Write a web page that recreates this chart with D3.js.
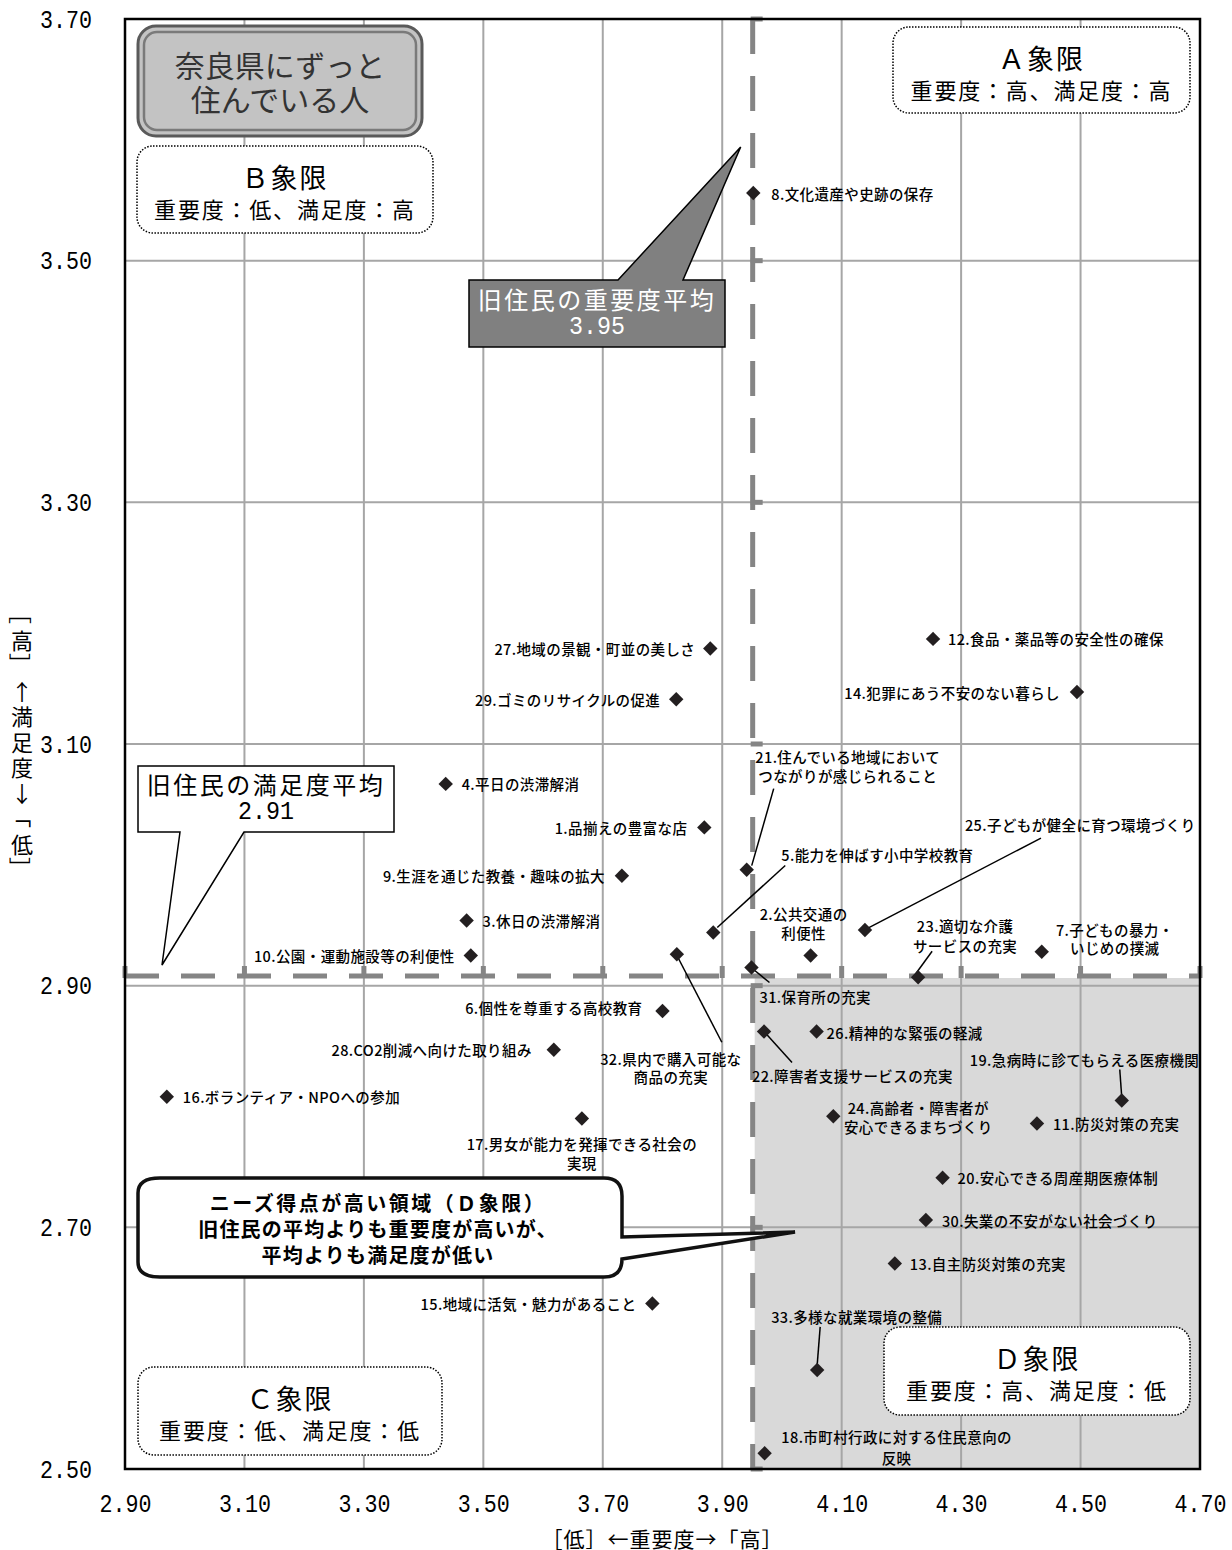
<!DOCTYPE html>
<html>
<head>
<meta charset="utf-8">
<script src="https://cdn.jsdelivr.net/npm/d3@7"></script>
<style>
  body { margin: 0; background: #fff; }
  svg text { font-family: "Noto Sans CJK JP", sans-serif; }
</style>
</head>
<body>
<div id="chart"></div>
<script>
// 項目番号・名称
var itemNo = d3.range(1, 34)
var itemNames = [
  "品揃えの豊富な店", "公共交通の利便性", "休日の渋滞解消", "平日の渋滞解消",
  "能力を伸ばす小中学校教育", "個性を尊重する高校教育", "子どもの暴力・いじめの撲滅",
  "文化遺産や史跡の保存", "生涯を通じた教養・趣味の拡大", "公園・運動施設等の利便性",
  "防災対策の充実", "食品・薬品等の安全性の確保", "自主防災対策の充実",
  "犯罪にあう不安のない暮らし", "地域に活気・魅力があること", "ボランティア・NPOへの参加",
  "男女が能力を発揮できる社会の実現", "市町村行政に対する住民意向の反映",
  "急病時に診てもらえる医療機関", "安心できる周産期医療体制",
  "住んでいる地域においてつながりが感じられること", "障害者支援サービスの充実",
  "適切な介護サービスの充実", "高齢者・障害者が安心できるまちづくり",
  "子どもが健全に育つ環境づくり", "精神的な緊張の軽減", "地域の景観・町並の美しさ",
  "CO2削減へ向けた取り組み", "ゴミのリサイクルの促進", "失業の不安がない社会づくり",
  "保育所の充実", "県内で購入可能な商品の充実", "多様な就業環境の整備"
]
// 重要度 (x)
var importance = [
  3.870, 4.048, 3.472, 3.437, 3.885, 3.800, 4.435, 3.952, 3.732, 3.479,
  4.427, 4.253, 4.189, 4.494, 3.783, 2.970, 3.665, 3.971, 4.569, 4.269,
  3.941, 3.970, 4.228, 4.086, 4.139, 4.058, 3.880, 3.618, 3.823, 4.241,
  3.949, 3.824, 4.059
]
// 満足度 (y)
var satisfaction = [
  3.031, 2.925, 2.954, 3.067, 2.944, 2.879, 2.928, 3.556, 2.991, 2.925,
  2.786, 3.187, 2.670, 3.143, 2.637, 2.808, 2.790, 2.513, 2.805, 2.741,
  2.996, 2.862, 2.907, 2.792, 2.946, 2.862, 3.179, 2.847, 3.137, 2.706,
  2.915, 2.926, 2.582
]
var xTicks = [2.9, 3.1, 3.3, 3.5, 3.7, 3.9, 4.1, 4.3, 4.5, 4.7]
var yTicks = [2.5, 2.7, 2.9, 3.1, 3.3, 3.5, 3.7]
var meanImportance = 3.951
var meanSatisfaction = 2.908
var quadrantNames = ["Ａ象限", "Ｂ象限", "Ｃ象限", "Ｄ象限"]
var quadrantNotes = ["重要度：高、満足度：高", "重要度：低、満足度：高", "重要度：低、満足度：低", "重要度：高、満足度：低"]
var xTitle = "［低］←重要度→「高］"
var yTitle = "［高］↑満足度↓「低］"

// ラベル配置 (点からのずれ, px)
var labelLayout = {
  1: {a: "end", dx: -17, dy: 0},
  2: {a: "middle", dx: -7, dy: -42, k: 7, gap: 19},
  3: {a: "start", dx: 16, dy: 0},
  4: {a: "start", dx: 16, dy: 0},
  5: {a: "start", dx: 68, dy: -78, leader: [72, -67, 4, -5]},
  6: {a: "end", dx: -20, dy: -4},
  7: {a: "middle", dx: 73, dy: -22, k: 9, gap: 18},
  8: {a: "start", dx: 18, dy: 0},
  9: {a: "end", dx: -17, dy: 0},
  10: {a: "end", dx: -16, dy: 0},
  11: {a: "start", dx: 16, dy: 0},
  12: {a: "start", dx: 15, dy: 0},
  13: {a: "start", dx: 15, dy: 0},
  14: {a: "end", dx: -17, dy: 0},
  15: {a: "end", dx: -16, dy: 0},
  16: {a: "start", dx: 16, dy: 0},
  17: {a: "middle", dx: 0, dy: 25, k: 17, gap: 19},
  18: {a: "middle", dx: 132, dy: -17, k: 17, gap: 21},
  19: {a: "start", dx: -152, dy: -41, leader: [-2, -31, 0, -3]},
  20: {a: "start", dx: 15, dy: 0},
  21: {a: "middle", dx: 101, dy: -113, k: 14, gap: 18.5, leader: [27, -81, 5, -4]},
  22: {a: "start", dx: -12, dy: 44, leader: [0, 0, 28, 31]},
  23: {a: "middle", dx: 47, dy: -52, k: 8, gap: 20, leader: [14, -26, -2, -4]},
  24: {a: "middle", dx: 85, dy: -9, k: 11, gap: 19.5},
  25: {a: "start", dx: 100, dy: -106, leader: [176, -92, 3, -2]},
  26: {a: "start", dx: 10, dy: 1},
  27: {a: "end", dx: -15, dy: 0},
  28: {a: "end", dx: -22, dy: 0},
  29: {a: "end", dx: -16, dy: 0},
  30: {a: "start", dx: 16, dy: 0},
  31: {a: "start", dx: 8, dy: 29, leader: [2, 2, 18, 15]},
  32: {a: "middle", dx: -6, dy: 104, k: 11, gap: 18.7, leader: [1, 3, 45, 88]},
  33: {a: "start", dx: -46, dy: -53, leader: [3, -43, 0, -5]}
}

var width = 1232, height = 1550
var plotLeft = 125, plotRight = 1200, plotTop = 19, plotBottom = 1469
var monoFont = "'Liberation Mono', 'DejaVu Sans Mono', monospace"

var svg = d3.select("#chart").append("svg")
    .attr("width", width)
    .attr("height", height)

var x = d3.scaleLinear().domain([2.9, 4.7]).range([plotLeft, plotRight])
var y = d3.scaleLinear().domain([2.5, 3.7]).range([plotBottom, plotTop])

var points = itemNo.map(function(n, i) {
  return {no: n, name: itemNames[i], x: importance[i], y: satisfaction[i]}
})

// D象限の網掛け
svg.append("rect")
    .attr("x", x(meanImportance) + 2)
    .attr("y", y(meanSatisfaction) + 2)
    .attr("width", x(4.7) - x(meanImportance) - 2)
    .attr("height", y(2.5) - y(meanSatisfaction) - 2)
    .attr("fill", "#d9d9d9")

// 目盛線
svg.append("g").selectAll("line")
    .data(xTicks.slice(1, -1))
    .enter().append("line")
    .attr("x1", function(d) { return x(d) }).attr("x2", function(d) { return x(d) })
    .attr("y1", plotTop).attr("y2", plotBottom)
    .attr("stroke", "#a6a6a6").attr("stroke-width", 2)
svg.append("g").selectAll("line")
    .data(yTicks.slice(1, -1))
    .enter().append("line")
    .attr("y1", function(d) { return y(d) }).attr("y2", function(d) { return y(d) })
    .attr("x1", plotLeft).attr("x2", plotRight)
    .attr("stroke", "#a6a6a6").attr("stroke-width", 2)

// 平均線
var meanColor = "#858585"
svg.append("line")
    .attr("x1", x(meanImportance)).attr("x2", x(meanImportance))
    .attr("y1", plotTop).attr("y2", plotBottom)
    .attr("stroke", meanColor).attr("stroke-width", 5)
    .attr("stroke-dasharray", "35,22")
svg.append("line")
    .attr("x1", plotLeft).attr("x2", plotRight)
    .attr("y1", y(meanSatisfaction)).attr("y2", y(meanSatisfaction))
    .attr("stroke", meanColor).attr("stroke-width", 5)
    .attr("stroke-dasharray", "34,22")
svg.append("g").selectAll("line")
    .data(xTicks)
    .enter().append("line")
    .attr("x1", function(d) { return x(d) }).attr("x2", function(d) { return x(d) })
    .attr("y1", y(meanSatisfaction) - 10).attr("y2", y(meanSatisfaction) + 2)
    .attr("stroke", meanColor).attr("stroke-width", 5)
svg.append("g").selectAll("line")
    .data(yTicks)
    .enter().append("line")
    .attr("y1", function(d) { return y(d) }).attr("y2", function(d) { return y(d) })
    .attr("x1", x(meanImportance) - 2).attr("x2", x(meanImportance) + 10)
    .attr("stroke", meanColor).attr("stroke-width", 5)

// 枠
svg.append("rect")
    .attr("x", plotLeft).attr("y", plotTop)
    .attr("width", plotRight - plotLeft).attr("height", plotBottom - plotTop)
    .attr("fill", "none").attr("stroke", "#000").attr("stroke-width", 2.5)

// 軸
var fmt = d3.format(".2f")
var yAxis = svg.append("g")
    .attr("transform", "translate(" + plotLeft + ",0)")
    .call(d3.axisLeft(y).tickValues(yTicks).tickSize(0).tickPadding(33).tickFormat(fmt))
var xAxis = svg.append("g")
    .attr("transform", "translate(0," + plotBottom + ")")
    .call(d3.axisBottom(x).tickValues(xTicks).tickSize(0).tickFormat(fmt))
yAxis.select(".domain").remove()
xAxis.select(".domain").remove()
xAxis.selectAll("text").attr("y", 34).attr("dy", "0.35em")
svg.selectAll(".tick text")
    .style("font-family", monoFont)
    .attr("font-size", 26)
    .attr("fill", "#000")
    .attr("textLength", 52)
    .attr("lengthAdjust", "spacingAndGlyphs")

svg.append("text")
    .attr("x", (plotLeft + plotRight) / 2).attr("y", 1538)
    .attr("text-anchor", "middle").attr("dominant-baseline", "central")
    .attr("font-size", 21).attr("letter-spacing", 1)
    .text(xTitle)

// 縦書きの軸名 (括弧は回転)
var yTitleG = svg.append("g")
Array.from(yTitle).forEach(function(c, i) {
  var cy = 613 + i * 25.5
  var t = yTitleG.append("text")
      .attr("text-anchor", "middle").attr("dominant-baseline", "central")
      .attr("font-size", 22)
      .attr("transform", "translate(22," + cy + ")" + ("［］「」".indexOf(c) >= 0 ? " rotate(90)" : ""))
      .text(c)
})

// 引出線
var pts = svg.append("g")
points.forEach(function(d) {
  var L = labelLayout[d.no]
  if (!L.leader) return
  var px = x(d.x), py = y(d.y)
  pts.append("line")
      .attr("x1", px + L.leader[0]).attr("y1", py + L.leader[1])
      .attr("x2", px + L.leader[2]).attr("y2", py + L.leader[3])
      .attr("stroke", "#000").attr("stroke-width", 1.5)
})

// 点
pts.selectAll("path.pt")
    .data(points)
    .enter().append("path")
    .attr("class", "pt")
    .attr("d", d3.symbol().type(d3.symbolSquare).size(104))
    .attr("transform", function(d) { return "translate(" + x(d.x) + "," + y(d.y) + ") rotate(45)" })
    .attr("fill", "#231f20")

// ラベル
points.forEach(function(d) {
  var L = labelLayout[d.no]
  var label = d.no + "." + d.name
  var lines = L.k ? [label.slice(0, L.k), label.slice(L.k)] : [label]
  lines.forEach(function(t, j) {
    pts.append("text")
        .attr("x", x(d.x) + L.dx)
        .attr("y", y(d.y) + L.dy + j * (L.gap || 19))
        .attr("text-anchor", L.a)
        .attr("dominant-baseline", "central")
        .attr("font-size", 14.5)
        .attr("font-weight", 500)
        .attr("letter-spacing", 0.4)
        .attr("fill", "#000")
        .text(t)
  })
})

// 象限ボックス
var quadBoxes = [[893, 27, 297, 86], [137, 146, 296, 87], [138, 1367, 304, 88], [884, 1327, 306, 88]]
quadBoxes.forEach(function(b, i) {
  var g = svg.append("g")
  g.append("rect")
      .attr("x", b[0]).attr("y", b[1]).attr("width", b[2]).attr("height", b[3])
      .attr("rx", 16).attr("fill", "#fff")
      .attr("stroke", "#000").attr("stroke-width", 1.5).attr("stroke-dasharray", "1.5,1.5")
  g.append("text")
      .attr("x", b[0] + b[2] / 2).attr("y", b[1] + 30)
      .attr("text-anchor", "middle").attr("dominant-baseline", "central")
      .attr("font-size", 27).attr("letter-spacing", 2)
      .text(quadrantNames[i])
  g.append("text")
      .attr("x", b[0] + b[2] / 2).attr("y", b[1] + 62)
      .attr("text-anchor", "middle").attr("dominant-baseline", "central")
      .attr("font-size", 22).attr("letter-spacing", 1.8)
      .text(quadrantNotes[i])
})

// タイトル
var tg = svg.append("g")
tg.append("rect").attr("x", 138).attr("y", 26).attr("width", 284).attr("height", 110)
    .attr("rx", 18).attr("fill", "#c3c3c3").attr("stroke", "#5a5a5a").attr("stroke-width", 3)
tg.append("rect").attr("x", 144).attr("y", 32).attr("width", 272).attr("height", 98)
    .attr("rx", 13).attr("fill", "none").attr("stroke", "#7a7a7a").attr("stroke-width", 2.5)
;["奈良県にずっと", "住んでいる人"].forEach(function(t, j) {
  tg.append("text")
      .attr("x", 280).attr("y", 64 + j * 34)
      .attr("text-anchor", "middle").attr("dominant-baseline", "central")
      .attr("font-size", 30).attr("fill", "#333")
      .text(t)
})

// 平均の吹き出し
var impG = svg.append("g")
impG.append("path")
    .attr("d", "M469,280 L618,280 L" + (x(meanImportance) - 12) + ",147 L683,280 L725,280 L725,347 L469,347 Z")
    .attr("fill", "#808080").attr("stroke", "#000").attr("stroke-width", 1.5)
;["旧住民の重要度平均", meanImportance.toFixed(2)].forEach(function(t, j) {
  var tx = impG.append("text")
      .attr("x", 597).attr("y", 298 + j * 29)
      .attr("text-anchor", "middle").attr("dominant-baseline", "central")
      .attr("font-size", j ? 26 : 24).attr("letter-spacing", j ? 0 : 2.5).attr("fill", "#fff")
      .style("font-family", j ? monoFont : null)
      .text(t)
  if (j) tx.attr("textLength", 56).attr("lengthAdjust", "spacingAndGlyphs")
})

var satG = svg.append("g")
satG.append("path")
    .attr("d", "M138,766 L394,766 L394,832 L244,832 L162," + (y(meanSatisfaction) - 11) + " L180,832 L138,832 Z")
    .attr("fill", "#fff").attr("stroke", "#000").attr("stroke-width", 1.5)
;["旧住民の満足度平均", meanSatisfaction.toFixed(2)].forEach(function(t, j) {
  var tx = satG.append("text")
      .attr("x", 266).attr("y", 783 + j * 29)
      .attr("text-anchor", "middle").attr("dominant-baseline", "central")
      .attr("font-size", j ? 26 : 24).attr("letter-spacing", j ? 0 : 2.5).attr("fill", "#000")
      .style("font-family", j ? monoFont : null)
      .text(t)
  if (j) tx.attr("textLength", 56).attr("lengthAdjust", "spacingAndGlyphs")
})

// ニーズ得点の吹き出し
var needG = svg.append("g")
needG.append("path")
    .attr("d", "M160,1178 L604,1178 Q622,1178 622,1196 L622,1237 L795,1232 L622,1259 Q622,1277 604,1277 L160,1277 Q138,1277 138,1262 L138,1193 Q138,1178 160,1178 Z")
    .attr("fill", "#fff").attr("stroke", "#111").attr("stroke-width", 3.5)
;["ニーズ得点が高い領域（Ｄ象限）", "旧住民の平均よりも重要度が高いが、", "平均よりも満足度が低い"].forEach(function(t, j) {
  needG.append("text")
      .attr("x", 378).attr("y", 1202 + j * 26)
      .attr("text-anchor", "middle").attr("dominant-baseline", "central")
      .attr("font-size", 20).attr("font-weight", "bold").attr("letter-spacing", j ? 1.2 : 2.5)
      .text(t)
})
</script>
</body>
</html>
